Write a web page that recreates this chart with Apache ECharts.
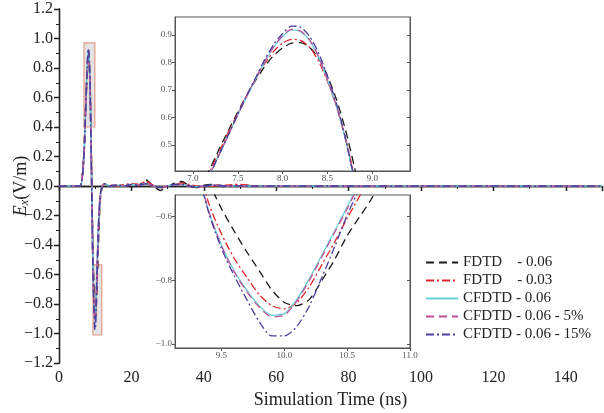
<!DOCTYPE html>
<html><head><meta charset="utf-8">
<script src="https://cdn.jsdelivr.net/npm/echarts@6/dist/echarts.min.js"></script>
<style>html,body{margin:0;padding:0;background:#fff}#c{width:604px;height:413px}</style>
</head><body><div id="c"></div>
<script>
// Simulation time (ns)
const T = [0, 4, 5.5, 6.0, 6.3, 6.6, 6.8,
  7.0, 7.1, 7.2, 7.3, 7.4, 7.5, 7.6, 7.7, 7.8, 7.9,
  8.0, 8.1, 8.2, 8.3, 8.4, 8.5, 8.6, 8.7, 8.8, 8.9,
  9.0, 9.1, 9.2, 9.3, 9.4, 9.5, 9.6, 9.7, 9.8, 9.9,
  10.0, 10.1, 10.2, 10.3, 10.4, 10.5, 10.6, 10.7, 10.8, 10.9, 11.0,
  11.3, 11.6, 12.0, 12.5, 13, 14,
  16, 18, 20, 22, 24, 26, 28, 30, 32, 34, 36, 38, 40,
  43, 46, 50, 55, 60, 80, 100, 150];

const fdtd006 = [0, 0, 0, 0.008, 0.04, 0.12, 0.19,
  0.28, 0.35, 0.42, 0.49, 0.555, 0.62, 0.68, 0.735, 0.785, 0.825,
  0.853, 0.87, 0.872, 0.855, 0.815, 0.75, 0.665, 0.555, 0.42, 0.27,
  0.11, -0.05, -0.21, -0.36, -0.49, -0.575, -0.645, -0.71, -0.77, -0.83,
  -0.87, -0.88, -0.86, -0.80, -0.735, -0.66, -0.60, -0.54, -0.46, -0.38, -0.31,
  -0.12, -0.045, -0.005, 0.015, 0.012, 0.0,
  0.005, 0.0, 0.01, 0.005, 0.04, 0.0, -0.03, -0.005, 0.02, 0.03, 0.0, -0.01, 0.005,
  0.01, -0.005, 0.005, 0.0, 0, 0, 0, 0];

const fdtd003 = [0, 0, 0, 0.006, 0.035, 0.11, 0.18,
  0.27, 0.34, 0.41, 0.48, 0.55, 0.615, 0.68, 0.74, 0.795, 0.84,
  0.87, 0.884, 0.88, 0.855, 0.805, 0.73, 0.64, 0.525, 0.385, 0.23,
  0.07, -0.09, -0.25, -0.42, -0.56, -0.655, -0.73, -0.79, -0.845, -0.88,
  -0.89, -0.87, -0.82, -0.75, -0.68, -0.605, -0.535, -0.46, -0.38, -0.31, -0.25,
  -0.1, -0.035, 0.0, 0.015, 0.01, 0.005,
  0.0, 0.01, 0.015, 0.01, 0.03, 0.005, -0.015, 0.0, 0.01, 0.02, 0.01, 0.0, -0.005,
  0.0, 0.005, 0.01, 0.0, 0, 0, 0, 0];

const cfdtd006 = [0, 0, 0, 0.005, 0.03, 0.10, 0.17,
  0.26, 0.33, 0.40, 0.47, 0.54, 0.61, 0.675, 0.74, 0.80, 0.855,
  0.895, 0.918, 0.912, 0.88, 0.82, 0.735, 0.64, 0.52, 0.37, 0.21,
  0.05, -0.11, -0.27, -0.44, -0.585, -0.69, -0.77, -0.83, -0.88, -0.91,
  -0.905, -0.86, -0.795, -0.72, -0.645, -0.57, -0.49, -0.41, -0.335, -0.27, -0.21,
  -0.09, -0.03, 0.0, 0.015, 0.01, 0.0,
  0.005, 0.0, 0.01, 0.005, 0.015, 0.0, -0.01, 0.0, 0.01, 0.01, 0.0, -0.005, 0.0,
  0.005, 0.0, 0.0, 0.0, 0, 0, 0, 0];

const cfdtd5 = [0, 0, 0, 0.005, 0.03, 0.10, 0.17,
  0.26, 0.33, 0.40, 0.47, 0.54, 0.61, 0.677, 0.742, 0.803, 0.857,
  0.897, 0.92, 0.914, 0.882, 0.822, 0.737, 0.642, 0.522, 0.372, 0.21,
  0.05, -0.11, -0.27, -0.44, -0.585, -0.692, -0.773, -0.835, -0.885, -0.915,
  -0.91, -0.865, -0.8, -0.725, -0.65, -0.575, -0.495, -0.415, -0.34, -0.275, -0.215,
  -0.09, -0.03, 0.0, 0.015, 0.01, 0.0,
  0.005, 0.0, 0.01, 0.005, 0.015, 0.0, -0.01, 0.0, 0.01, 0.01, 0.0, -0.005, 0.0,
  0.005, 0.0, 0.0, 0.0, 0, 0, 0, 0];

const cfdtd15 = [0, 0, 0, 0.005, 0.03, 0.10, 0.17,
  0.26, 0.33, 0.40, 0.47, 0.54, 0.61, 0.68, 0.745, 0.81, 0.865,
  0.905, 0.932, 0.928, 0.895, 0.835, 0.75, 0.65, 0.525, 0.375, 0.215,
  0.05, -0.11, -0.27, -0.44, -0.59, -0.70, -0.785, -0.86, -0.93, -0.975,
  -0.975, -0.945, -0.88, -0.79, -0.695, -0.595, -0.51, -0.43, -0.35, -0.28, -0.22,
  -0.095, -0.03, 0.0, 0.015, 0.01, 0.0,
  0.005, 0.0, 0.01, 0.005, 0.015, 0.0, -0.01, 0.0, 0.01, 0.01, 0.0, -0.005, 0.0,
  0.005, 0.0, 0.0, 0.0, 0, 0, 0, 0];

const seriesNames = ['FDTD    - 0.06', 'FDTD    - 0.03', 'CFDTD - 0.06', 'CFDTD - 0.06 - 5%', 'CFDTD - 0.06 - 15%'];
const seriesValues = [fdtd006, fdtd003, cfdtd006, cfdtd5, cfdtd15];
const seriesColors = ['#1a1a1a', '#e3262b', '#66cfd4', '#c4519a', '#4a3d9e'];
const seriesDash = [[8, 5], [8, 3, 2, 3], 'solid', [8, 5], [8, 3, 2, 3]];

// zoom regions (data units)
const peakBoxX = [6.9, 9.9], peakBoxY = [0.40, 0.97];
const troughBoxX = [9.4, 11.8], troughBoxY = [-1.01, -0.535];
// inset ranges and ticks
const inset1X = [6.8, 9.42], inset1Y = [0.405, 0.965];
const inset1XTicks = [7.0, 7.5, 8.0, 8.5, 9.0], inset1YTicks = [0.5, 0.6, 0.7, 0.8, 0.9];
const inset2X = [9.13, 11.0], inset2Y = [-1.013, -0.532];
const inset2XTicks = [9.5, 10.0, 10.5, 11.0], inset2YTicks = [-1.0, -0.8, -0.6];

const FONT = 'Liberation Serif';
const fmt = v => (Math.abs(v) < 1e-9 ? 0 : v).toFixed(1).replace('-', '\u2212');
const pairs = arr => T.map((t, i) => [t, arr[i]]);

const chart = echarts.init(document.getElementById('c'), null, {renderer: 'canvas'});

const mainAxisLine = {lineStyle: {color: '#222', width: 1.3}};
const insetAxisLine = {lineStyle: {color: '#555', width: 1}};

const xAxes = [
  {gridIndex: 0, type: 'value', min: 0, max: 150, interval: 20,
   axisLine: mainAxisLine, axisTick: {length: 5, lineStyle: {color: '#222', width: 1.3}},
   minorTick: {show: true, splitNumber: 2, length: 3, lineStyle: {color: '#222'}},
   splitLine: {show: false},
   axisLabel: {fontFamily: FONT, fontSize: 16, color: '#222', margin: 7,
     formatter: v => (v >= 150 ? '' : String(v))},
   name: 'Simulation Time (ns)', nameLocation: 'middle', nameGap: 28, nameMoveOverlap: false,
   nameTextStyle: {fontFamily: FONT, fontSize: 18, color: '#222'}},
  {gridIndex: 0, type: 'value', position: 'top', min: 0, max: 150, interval: 20,
   axisLine: mainAxisLine, axisTick: {inside: true, length: 5, lineStyle: {color: '#222', width: 1.3}},
   minorTick: {show: true, splitNumber: 2, length: 3, lineStyle: {color: '#222'}},
   splitLine: {show: false}, axisLabel: {show: false}},
  {gridIndex: 1, type: 'value', min: inset1X[0], max: inset1X[1],
   axisLine: insetAxisLine,
   axisTick: {customValues: inset1XTicks, length: 3, lineStyle: {color: '#555'}},
   axisLabel: {customValues: inset1XTicks, formatter: fmt, fontFamily: FONT, fontSize: 9, color: '#555', margin: 3},
   splitLine: {show: false}},
  {gridIndex: 2, type: 'value', min: inset2X[0], max: inset2X[1],
   axisLine: insetAxisLine,
   axisTick: {customValues: inset2XTicks, length: 3, lineStyle: {color: '#555'}},
   axisLabel: {customValues: inset2XTicks, formatter: fmt, fontFamily: FONT, fontSize: 9, color: '#555', margin: 3},
   splitLine: {show: false}}
];

const yAxes = [
  {gridIndex: 0, type: 'value', min: -1.2, max: 1.2, interval: 0.2,
   axisLine: mainAxisLine, axisTick: {length: 5, lineStyle: {color: '#222', width: 1.3}},
   minorTick: {show: true, splitNumber: 2, length: 3, lineStyle: {color: '#222'}},
   splitLine: {show: false},
   axisLabel: {formatter: fmt, fontFamily: FONT, fontSize: 16, color: '#222', margin: 6},
   name: '{i|E}{s|x}{n|(V/m)}', nameLocation: 'middle', nameGap: 28, nameRotate: 90,
   nameMoveOverlap: false,
   nameTextStyle: {rich: {
     i: {fontFamily: FONT, fontStyle: 'italic', fontSize: 18, color: '#222'},
     s: {fontFamily: FONT, fontStyle: 'italic', fontSize: 12, color: '#222', verticalAlign: 'bottom', padding: [8, 0, 0, 0]},
     n: {fontFamily: FONT, fontSize: 18, color: '#222'}}}},
  {gridIndex: 0, type: 'value', position: 'right', min: -1.2, max: 1.2, interval: 0.2,
   axisLine: mainAxisLine, axisTick: {inside: true, length: 5, lineStyle: {color: '#222', width: 1.3}},
   minorTick: {show: true, splitNumber: 2, length: 3, lineStyle: {color: '#222'}},
   splitLine: {show: false}, axisLabel: {show: false}},
  {gridIndex: 1, type: 'value', min: inset1Y[0], max: inset1Y[1],
   axisLine: insetAxisLine,
   axisTick: {customValues: inset1YTicks, length: 3, lineStyle: {color: '#555'}},
   axisLabel: {customValues: inset1YTicks, formatter: fmt, fontFamily: FONT, fontSize: 9, color: '#555', margin: 3},
   splitLine: {show: false}},
  {gridIndex: 1, type: 'value', position: 'right', min: inset1Y[0], max: inset1Y[1],
   axisLine: insetAxisLine,
   axisTick: {customValues: inset1YTicks, inside: true, length: 3, lineStyle: {color: '#555'}},
   axisLabel: {show: false}, splitLine: {show: false}},
  {gridIndex: 2, type: 'value', min: inset2Y[0], max: inset2Y[1],
   axisLine: insetAxisLine,
   axisTick: {customValues: inset2YTicks, length: 3, lineStyle: {color: '#555'}},
   axisLabel: {customValues: inset2YTicks, formatter: fmt, fontFamily: FONT, fontSize: 9, color: '#555', margin: 3},
   splitLine: {show: false}},
  {gridIndex: 2, type: 'value', position: 'right', min: inset2Y[0], max: inset2Y[1],
   axisLine: insetAxisLine,
   axisTick: {customValues: inset2YTicks, inside: true, length: 3, lineStyle: {color: '#555'}},
   axisLabel: {show: false}, splitLine: {show: false}}
];

const series = [];
const gridAxes = [[0, 0, 1.6], [2, 2, 1.3], [3, 4, 1.3]];
gridAxes.forEach(([xi, yi, w], g) => {
  seriesNames.forEach((name, k) => {
    const s = {
      name, type: 'line', xAxisIndex: xi, yAxisIndex: yi,
      data: pairs(seriesValues[k]), symbol: 'none', smooth: 0.25, clip: true,
      lineStyle: {color: seriesColors[k], width: w, type: seriesDash[k]},
      itemStyle: {color: seriesColors[k]}, animation: false, z: 3 + k
    };
    if (g === 0 && k === 0) {
      s.markArea = {silent: true,
        itemStyle: {color: 'rgba(195,195,195,0.45)', borderColor: '#e39a88', borderWidth: 1.2},
        data: [
          [{xAxis: peakBoxX[0], yAxis: peakBoxY[1]}, {xAxis: peakBoxX[1], yAxis: peakBoxY[0]}],
          [{xAxis: troughBoxX[0], yAxis: troughBoxY[1]}, {xAxis: troughBoxX[1], yAxis: troughBoxY[0]}]
        ]};
    }
    series.push(s);
  });
});

chart.setOption({
  animation: false,
  backgroundColor: '#fff',
  grid: [
    {left: 59, top: 9, width: 543, height: 354, outerBoundsMode: 'none', containLabel: false},
    {left: 175, top: 17, width: 235, height: 154, show: true, backgroundColor: '#fff', borderColor: '#555', borderWidth: 1, outerBoundsMode: 'none', containLabel: false},
    {left: 175, top: 195, width: 235, height: 153, show: true, backgroundColor: '#fff', borderColor: '#555', borderWidth: 1, outerBoundsMode: 'none', containLabel: false}
  ],
  legend: {data: seriesNames, orient: 'vertical', left: 420, top: 250,
    itemWidth: 32, itemHeight: 14, itemGap: 3,
    itemStyle: {opacity: 0},
    textStyle: {fontFamily: FONT, fontSize: 15, color: '#222'}},
  xAxis: xAxes, yAxis: yAxes, series
});
</script></body></html>
